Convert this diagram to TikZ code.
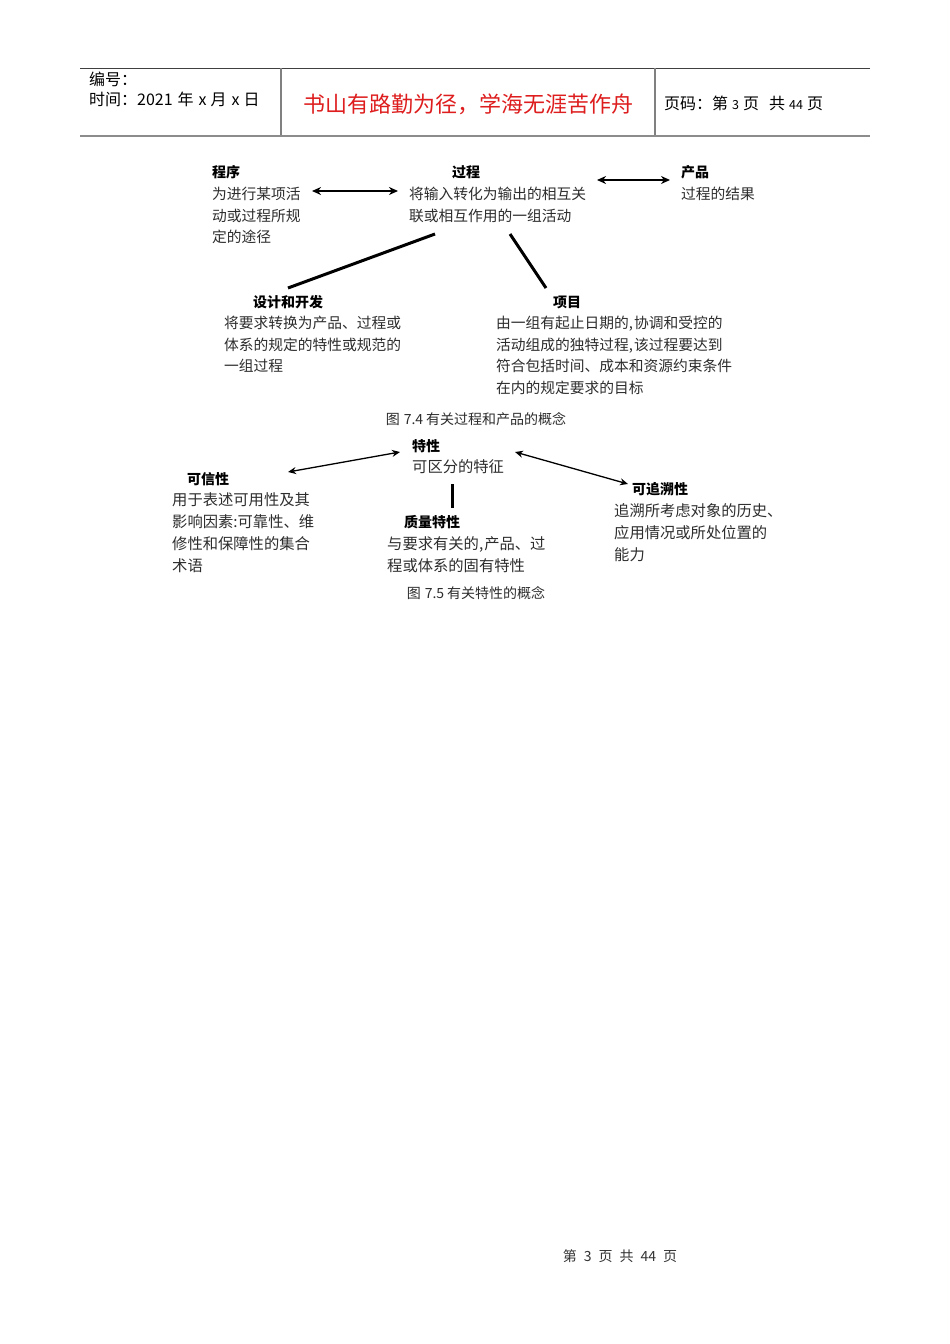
\documentclass[tikz,border=0pt]{standalone}
\usepackage{fontspec}
\setmainfont{Noto Sans CJK SC}
\usetikzlibrary{arrows.meta,calc}
\definecolor{titlered}{RGB}{222,30,30}
\definecolor{bodytext}{RGB}{45,45,45}
\tikzset{
  head/.style={font=\fontsize{14}{16}\selectfont\bfseries, inner sep=0pt, anchor=west, text=black},
  headc/.style={head, anchor=center},
  bodytxt/.style={font=\fontsize{14.75}{21.7}\selectfont, inner sep=0pt, anchor=north west, align=left, text=bodytext},
  bodytxtb/.style={bodytxt, font=\fontsize{15.3}{21.9}\selectfont},
  caption/.style={font=\fontsize{14}{16}\selectfont, inner sep=0pt, anchor=center, text=bodytext},
  hdr/.style={font=\fontsize{16}{20}\selectfont, inner sep=0pt, anchor=west, text=black},
  dbl/.style={line width=2pt, {Stealth[length=9pt,width=8pt]}-{Stealth[length=9pt,width=8pt]}},
  dblthin/.style={line width=1.3pt, {Stealth[length=8pt,width=7pt]}-{Stealth[length=8pt,width=7pt]}},
  link/.style={line width=3pt}
}
\newcommand{\smalldig}[1]{{\fontsize{12.5}{14}\selectfont #1}}
\begin{document}
\begin{tikzpicture}[x=1pt,y=-1pt]
\useasboundingbox (0,0) rectangle (950,1344);
\fill[white] (0,0) rectangle (950,1344);

% header
\draw[line width=1pt, black!75] (80,68) -- (870,68);
\draw[line width=2pt, black!45] (80,135.5) -- (870,135.5);
\draw[line width=1.3pt, black!50] (281,68) -- (281,135);
\draw[line width=1.3pt, black!50] (655,68) -- (655,135);
\node[hdr] (hno) at (89,79) {编号：};
\node[hdr] (htime) at (89,99) {时间：2021\hspace{5pt}年\hspace{5pt}x\hspace{4pt}月\hspace{5pt}x\hspace{4pt}日};
\node[font=\fontsize{22}{26}\selectfont, text=titlered, inner sep=0pt] (htitle) at (468,104) {书山有路勤为径，学海无涯苦作舟};
\node[hdr] (hpage) at (664,103) {页码：第\hspace{4pt}\smalldig{3}\hspace{4pt}页\hspace{10pt}共\hspace{4pt}\smalldig{44}\hspace{4pt}页};

% figure 7.4
\node[head] (proghead) at (212,172) {程序};
\node[bodytxt] (progbody) at (212,186.75) {为进行某项活\\动或过程所规\\定的途径};
\node[headc] (prochead) at (466,172) {过程};
\node[bodytxt] (procbody) at (409,186.75) {将输入转化为输出的相互关\\联或相互作用的一组活动};
\node[head] (prodhead) at (681,172) {产品};
\node[bodytxt] (prodbody) at (681,186.75) {过程的结果};
\node[head] (deshead) at (253,302) {设计和开发};
\node[bodytxt] (desbody) at (224,315.75) {将要求转换为产品、过程或\\体系的规定的特性或规范的\\一组过程};
\node[headc] (projhead) at (567,302) {项目};
\node[bodytxt] (projbody) at (496,315.75) {由一组有起止日期的,\hspace{1pt}协调和受控的\\活动组成的独特过程,\hspace{1pt}该过程要达到\\符合包括时间、成本和资源约束条件\\在内的规定要求的目标};
\node[caption] (cap74) at (476,419) {图\hspace{4pt}7.4\hspace{3pt}有关过程和产品的概念};

\coordinate (a1s) at (312,191);
\coordinate (a1e) at (398,191);
\coordinate (a2s) at (597,180);
\coordinate (a2e) at (670,180);
\coordinate (l1s) at (435,234);
\coordinate (l1e) at (288,288);
\coordinate (l2s) at (510,234);
\coordinate (l2e) at (546,288);
\draw[dbl] (a1s) -- (a1e);
\draw[dbl] (a2s) -- (a2e);
\draw[link] (l1s) -- (l1e);
\draw[link] (l2s) -- (l2e);

% figure 7.5
\node[head] (charhead) at (412,446) {特性};
\node[bodytxtb] (charbody) at (412,459.5) {可区分的特征};
\node[head] (credhead) at (187,479) {可信性};
\node[bodytxtb] (credbody) at (172,492.5) {用于表述可用性及其\\影响因素:可靠性、维\\修性和保障性的集合\\术语};
\node[head] (qualhead) at (404,522) {质量特性};
\node[bodytxtb] (qualbody) at (387,536.5) {与要求有关的,\hspace{1pt}产品、过\\程或体系的固有特性};
\node[head] (trachead) at (632,489) {可追溯性};
\node[bodytxtb] (tracbody) at (614,503.5) {追溯所考虑对象的历史、\\应用情况或所处位置的\\能力};
\node[caption] (cap75) at (476,593) {图\hspace{4pt}7.5\hspace{3pt}有关特性的概念};

\coordinate (b1s) at (288,472);
\coordinate (b1e) at (400,452);
\coordinate (b2s) at (515,452);
\coordinate (b2e) at (628,484);
\coordinate (vs) at (452,484);
\coordinate (ve) at (452,508);
\draw[dblthin] (b1s) -- (b1e);
\draw[dblthin] (b2s) -- (b2e);
\draw[link] (vs) -- (ve);

% footer
\node[caption, text=black!80] (footer) at (620,1256) {第\enspace 3\enspace 页\enspace 共\enspace 44\enspace 页};
\end{tikzpicture}
\end{document}
